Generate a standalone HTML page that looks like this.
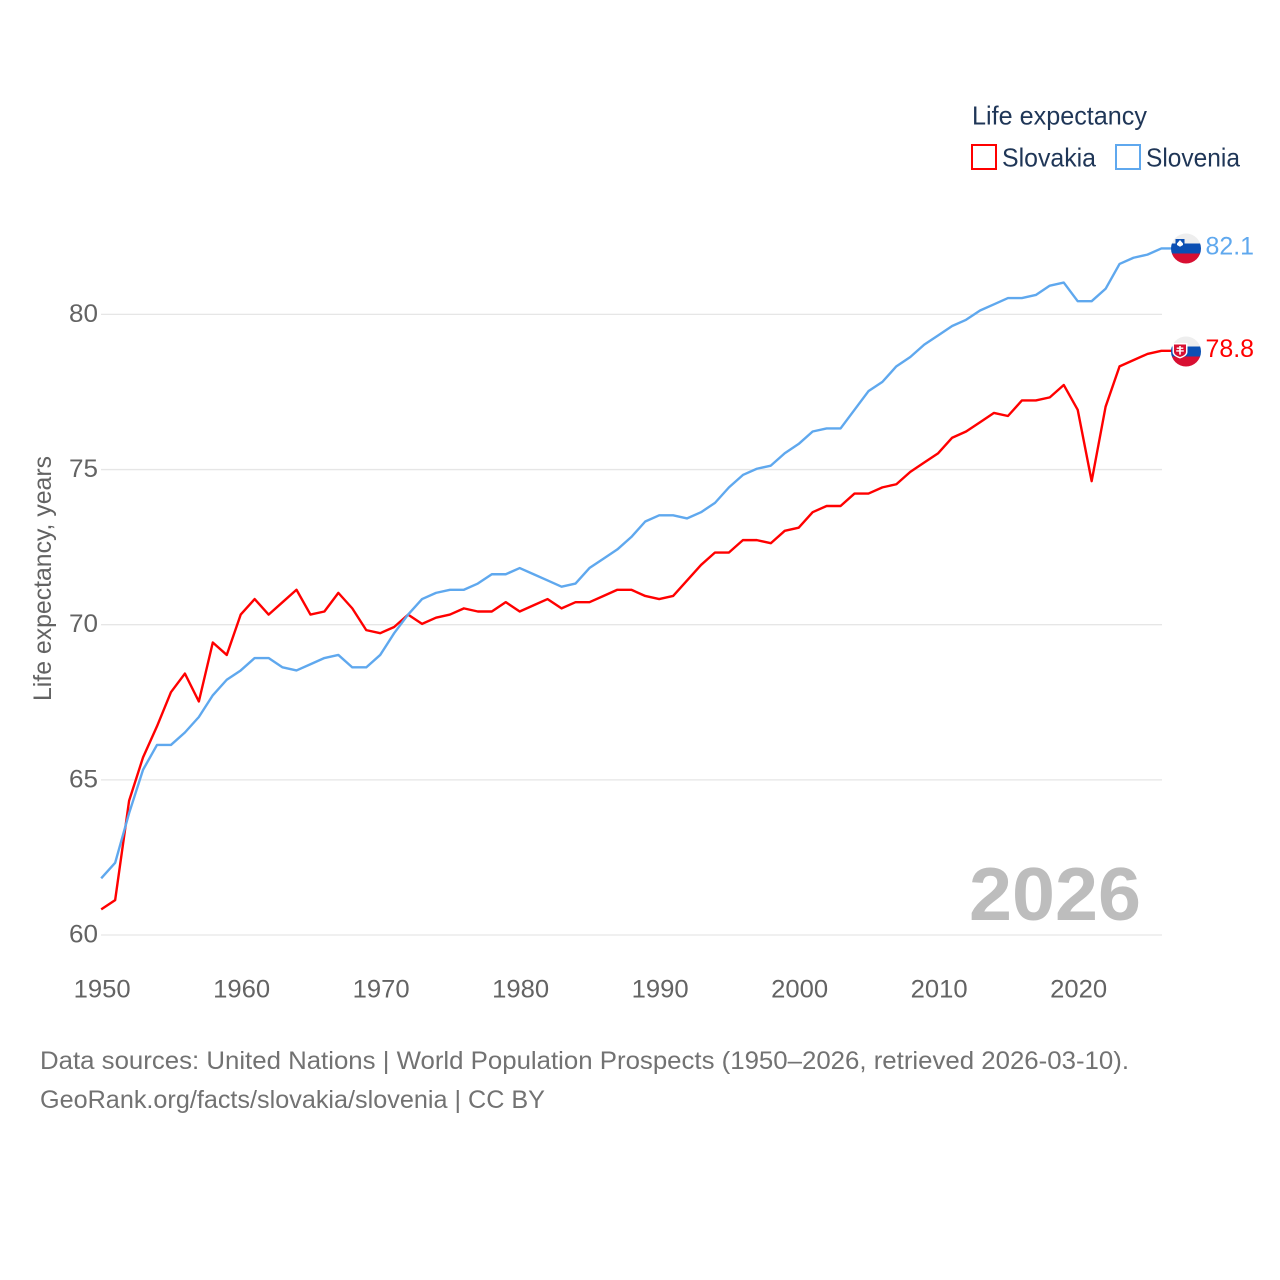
<!DOCTYPE html>
<html lang="en">
<head>
<meta charset="utf-8">
<title>Life expectancy: Slovakia and Slovenia</title>
<style>
html,body{margin:0;padding:0;background:#fff;width:1280px;height:1280px;overflow:hidden}
svg{display:block;font-family:"Liberation Sans",sans-serif}
</style>
</head>
<body>
<svg id="chart" width="1280" height="1280" viewBox="0 0 1280 1280" xmlns="http://www.w3.org/2000/svg">
  <defs>
    <clipPath id="flag-clip-si"><circle cx="1186" cy="248.500" r="15"/></clipPath>
    <clipPath id="flag-clip-sk"><circle cx="1186" cy="351.500" r="15"/></clipPath>
  </defs>
  <g id="grid"></g>
  <g id="y-ticks"></g>
  <g id="x-ticks"></g>
  <text transform="translate(51,701) rotate(-90)" font-size="25" fill="#636363" textLength="245" lengthAdjust="spacingAndGlyphs">Life expectancy, years</text>
  <text x="969" y="920" font-size="75" font-weight="700" fill="#bdbdbd" textLength="172" lengthAdjust="spacingAndGlyphs">2026</text>
  <g id="series"></g>

  <g clip-path="url(#flag-clip-si)">
    <rect x="1171" y="233" width="30" height="10.500" fill="#eeeeee"/>
    <rect x="1171" y="243.500" width="30" height="10" fill="#0b4fb3"/>
    <rect x="1171" y="253.500" width="30" height="10.500" fill="#d80f32"/>
    <path d="M1175.500 239h9v6l-4.500 3-4.500-3z" fill="#0b4fb3"/>
    <path d="M1177 243.500l3-3.500 3 3.500v1.500l-3 1.800-3-1.800z" fill="#fff"/>
  </g>
  <g clip-path="url(#flag-clip-sk)">
    <rect x="1171" y="336" width="30" height="10.500" fill="#eeeeee"/>
    <rect x="1171" y="346.500" width="30" height="10" fill="#0b4fb3"/>
    <rect x="1171" y="356.500" width="30" height="10.500" fill="#d80f32"/>
    <path d="M1172.500 343h15v9q0 4-7.500 6.500q-7.500-2.500-7.500-6.500z" fill="#fff"/>
    <path d="M1174 344.500h12v7.500q0 3-6 5q-6-2-6-5z" fill="#d80f32"/>
    <path d="M1179.200 346h1.600v1.500h2.500v1.400h-2.500v1.300h3v1.400h-3v3h-1.600v-3h-3v-1.400h3v-1.300h-2.500v-1.400h2.500z" fill="#fff"/>
  </g>
  <text x="1205.500" y="254.500" font-size="25" fill="#5fa8ee" textLength="48.500" lengthAdjust="spacingAndGlyphs">82.1</text>
  <text x="1205.500" y="357" font-size="25" fill="#ff0000" textLength="48.500" lengthAdjust="spacingAndGlyphs">78.8</text>

  <g>
    <text x="972" y="124.500" font-size="26" fill="#1f3657" textLength="175" lengthAdjust="spacingAndGlyphs">Life expectancy</text>
    <rect x="972" y="145" width="24" height="24" fill="#fff" stroke="#ff0000" stroke-width="2"/>
    <text x="1002" y="166.500" font-size="26" fill="#1f3657" textLength="94" lengthAdjust="spacingAndGlyphs">Slovakia</text>
    <rect x="1116" y="145" width="24" height="24" fill="#fff" stroke="#5fa8ee" stroke-width="2"/>
    <text x="1146" y="166.500" font-size="26" fill="#1f3657" textLength="94" lengthAdjust="spacingAndGlyphs">Slovenia</text>
  </g>

  <text x="40" y="1069" font-size="25" fill="#727272" textLength="1089" lengthAdjust="spacingAndGlyphs">Data sources: United Nations | World Population Prospects (1950–2026, retrieved 2026-03-10).</text>
  <text x="40" y="1108" font-size="25" fill="#727272" textLength="505" lengthAdjust="spacingAndGlyphs">GeoRank.org/facts/slovakia/slovenia | CC BY</text>
</svg>
<script>
const years = [1950,1951,1952,1953,1954,1955,1956,1957,1958,1959,1960,1961,1962,1963,1964,1965,1966,1967,1968,1969,1970,1971,1972,1973,1974,1975,1976,1977,1978,1979,1980,1981,1982,1983,1984,1985,1986,1987,1988,1989,1990,1991,1992,1993,1994,1995,1996,1997,1998,1999,2000,2001,2002,2003,2004,2005,2006,2007,2008,2009,2010,2011,2012,2013,2014,2015,2016,2017,2018,2019,2020,2021,2022,2023,2024,2025,2026];
const slovakia = [60.8,61.1,64.3,65.7,66.7,67.8,68.4,67.5,69.4,69.0,70.3,70.8,70.3,70.7,71.1,70.3,70.4,71.0,70.5,69.8,69.7,69.9,70.3,70.0,70.2,70.3,70.5,70.4,70.4,70.7,70.4,70.6,70.8,70.5,70.7,70.7,70.9,71.1,71.1,70.9,70.8,70.9,71.4,71.9,72.3,72.3,72.7,72.7,72.6,73.0,73.1,73.6,73.8,73.8,74.2,74.2,74.4,74.5,74.9,75.2,75.5,76.0,76.2,76.5,76.8,76.7,77.2,77.2,77.3,77.7,76.9,74.6,77.0,78.3,78.5,78.7,78.8];
const slovenia = [61.8,62.3,63.9,65.3,66.1,66.1,66.5,67.0,67.7,68.2,68.5,68.9,68.9,68.6,68.5,68.7,68.9,69.0,68.6,68.6,69.0,69.7,70.3,70.8,71.0,71.1,71.1,71.3,71.6,71.6,71.8,71.6,71.4,71.2,71.3,71.8,72.1,72.4,72.8,73.3,73.5,73.5,73.4,73.6,73.9,74.4,74.8,75.0,75.1,75.5,75.8,76.2,76.3,76.3,76.9,77.5,77.8,78.3,78.6,79.0,79.3,79.6,79.8,80.1,80.3,80.5,80.5,80.6,80.9,81.0,80.4,80.4,80.8,81.6,81.8,81.9,82.1];
const yTickValues = [60,65,70,75,80];
const xTickValues = [1950,1960,1970,1980,1990,2000,2010,2020];

const NS = 'http://www.w3.org/2000/svg';
const xScale = function (year) { return 101.2 + (year - 1950) * 13.95; };
const yScale = function (value) { return 935 - (value - 60) * 31.03; };
const lineOffsetY = -0.8;

function make(tag, attrs, parent) {
  const el = document.createElementNS(NS, tag);
  Object.keys(attrs).forEach(function (k) { el.setAttribute(k, attrs[k]); });
  parent.appendChild(el);
  return el;
}

const grid = document.getElementById('grid');
const yTicks = document.getElementById('y-ticks');
const xTicks = document.getElementById('x-ticks');
const seriesGroup = document.getElementById('series');

yTickValues.forEach(function (v) {
  const line = make('line', {x1: 101, x2: 1162, y1: yScale(v), y2: yScale(v), stroke: '#e6e6e6', 'stroke-width': 1.3}, grid);
  
  
  const label = make('text', {x: 98, y: yScale(v) + 7.5, 'text-anchor': 'end', 'font-size': 25, fill: '#636363', textLength: 29, lengthAdjust: 'spacingAndGlyphs'}, yTicks);
  
  
  label.textContent = String(v);
});

xTickValues.forEach(function (v) {
  const label = make('text', {x: xScale(v) + 1, y: 997.5, 'text-anchor': 'middle', 'font-size': 25, fill: '#636363', textLength: 57, lengthAdjust: 'spacingAndGlyphs'}, xTicks);
  
  
  label.textContent = String(v);
});

function drawSeries(values, color) {
  const pts = values.map(function (v, i) { return xScale(years[i]).toFixed(2) + ',' + (yScale(v) + lineOffsetY).toFixed(2); });
  const lastY = (yScale(values[values.length - 1]) + lineOffsetY).toFixed(2);
  pts.push('1172,' + lastY);
  return make('polyline', {points: pts.join(' '), fill: 'none', stroke: color, 'stroke-width': 2.4, 'stroke-linejoin': 'round'}, seriesGroup);
}

const slovakiaLine = drawSeries(slovakia, '#ff0000');



const sloveniaLine = drawSeries(slovenia, '#5fa8ee');


</script>
</body>
</html>
